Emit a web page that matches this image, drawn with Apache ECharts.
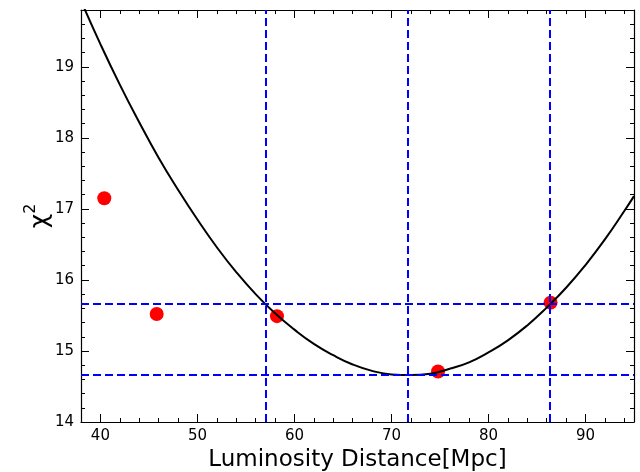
<!DOCTYPE html>
<html>
<head>
<meta charset="utf-8">
<script src="https://cdn.jsdelivr.net/npm/echarts@6/dist/echarts.min.js"></script>
<style>html,body{margin:0;padding:0;background:#fff}#c{width:640px;height:472px}</style>
</head>
<body>
<div id="c"></div>
<script>
// Data
const pointX = [40.4, 45.8, 58.2, 74.8, 86.4];
const pointY = [17.15, 15.52, 15.49, 14.71, 15.68];
const curveX = [38, 40, 42, 44, 46, 48, 50, 52, 54, 56, 58, 60, 62, 64, 66, 68, 70, 72, 74, 76, 78, 80, 82, 84, 86, 88, 90, 92, 94, 95];
const curveY = [19.93, 19.32, 18.75, 18.22, 17.72, 17.27, 16.85, 16.46, 16.11, 15.80, 15.53, 15.30, 15.10, 14.94, 14.81, 14.72, 14.67, 14.66, 14.68, 14.75, 14.84, 14.98, 15.15, 15.36, 15.61, 15.89, 16.21, 16.57, 16.97, 17.18];
const vLines = [57.0, 71.7, 86.35];
const hLines = [14.66, 15.66];
const xTicks = [40, 50, 60, 70, 80, 90];
const yTicks = [14, 15, 16, 17, 18, 19];
const xRange = [38, 95];
const yRange = [14, 19.8];

const font = 'DejaVu Sans';
function xAx(pos, show) {
  return {
    type: 'value', position: pos, min: xRange[0], max: xRange[1], splitNumber: 5,
    axisLine: {show: true, onZero: false, lineStyle: {color: '#000', width: 1.2}},
    axisTick: {show: true, inside: true, length: 8, customValues: xTicks, lineStyle: {color: '#000', width: 1}},
    minorTick: {show: true, splitNumber: 5, length: 4, lineStyle: {color: '#000', width: 1}},
    axisLabel: {show: show, customValues: xTicks, color: '#000', fontFamily: font, fontSize: 15, margin: 7},
    splitLine: {show: false}, minorSplitLine: {show: false},
    name: show ? 'Luminosity Distance[Mpc]' : '', nameLocation: 'middle', nameGap: 22,
    nameTextStyle: {color: '#000', fontFamily: font, fontSize: 23}
  };
}
function yAx(pos, show) {
  return {
    type: 'value', position: pos, min: yRange[0], max: yRange[1], splitNumber: 5,
    axisLine: {show: true, onZero: false, lineStyle: {color: '#000', width: 1.2}},
    axisTick: {show: true, inside: true, length: 8, customValues: yTicks, lineStyle: {color: '#000', width: 1}},
    minorTick: {show: true, splitNumber: 5, length: 4, lineStyle: {color: '#000', width: 1}},
    axisLabel: {show: show, customValues: yTicks, color: '#000', fontFamily: font, fontSize: 15, margin: 7},
    splitLine: {show: false}, minorSplitLine: {show: false},
    name: show ? '{x|χ}{s|2}' : '', nameLocation: 'middle', nameGap: 28, nameRotate: 90,
    nameMoveOverlap: false,
    nameTextStyle: {
      color: '#000', fontFamily: font, fontSize: 24, lineHeight: 30,
      rich: {
        x: {fontFamily: font, fontSize: 25, color: '#000', verticalAlign: 'bottom', lineHeight: 30},
        s: {fontFamily: font, fontSize: 16, color: '#000', verticalAlign: 'top', lineHeight: 30}
      }
    }
  };
}

const chart = echarts.init(document.getElementById('c'), null, {renderer: 'canvas'});
const dash = {color: '#0000ff', width: 2, type: [8, 4]};
chart.setOption({
  animation: false,
  backgroundColor: '#fff',
  grid: {left: 81, right: 6, top: 10, bottom: 50, containLabel: false, outerBoundsMode: 'none'},
  xAxis: [xAx('bottom', true), xAx('top', false)],
  yAxis: [yAx('left', true), yAx('right', false)],
  series: [
    {
      type: 'scatter', xAxisIndex: 0, yAxisIndex: 0, z: 2,
      data: pointX.map((x, i) => [x, pointY[i]]),
      symbol: 'circle', symbolSize: 14, itemStyle: {color: '#ff0000', opacity: 1}
    },
    {
      type: 'line', xAxisIndex: 0, yAxisIndex: 0, z: 3,
      data: curveX.map((x, i) => [x, curveY[i]]),
      smooth: true, showSymbol: false, symbol: 'none', clip: true,
      lineStyle: {color: '#000', width: 2}
    },
    {
      type: 'line', xAxisIndex: 0, yAxisIndex: 0, z: 4, data: [],
      markLine: {
        silent: true, symbol: 'none', animation: false,
        label: {show: false},
        lineStyle: dash,
        data: vLines.map(v => ({xAxis: v})).concat(hLines.map(v => ({yAxis: v})))
      }
    }
  ]
});
</script>
</body>
</html>
